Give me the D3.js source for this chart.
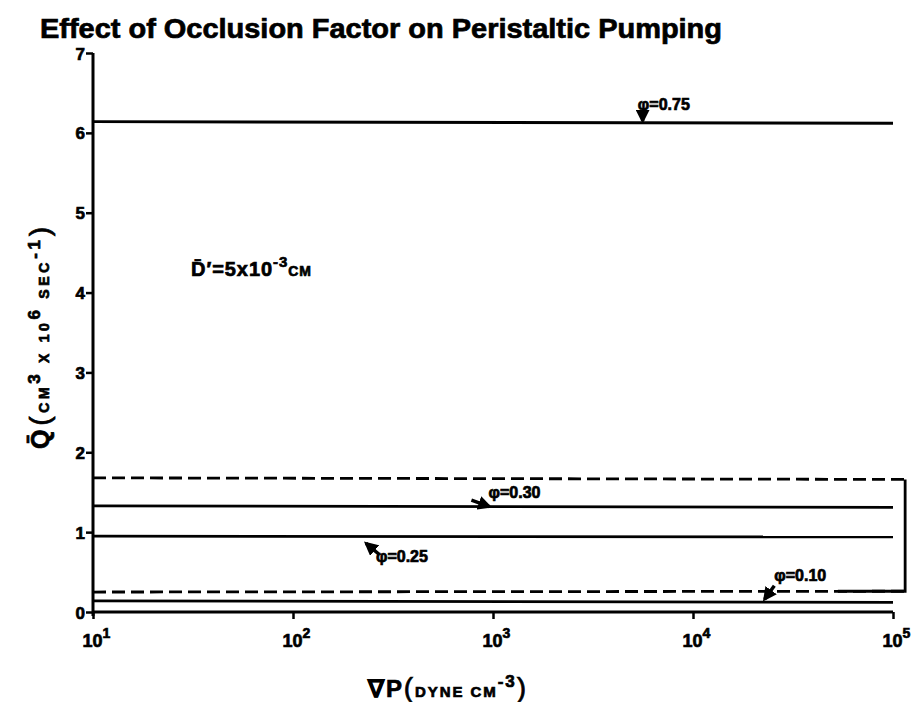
<!DOCTYPE html>
<html>
<head>
<meta charset="utf-8">
<script src="https://cdn.jsdelivr.net/npm/d3@7"></script>
<style>
  html, body { margin: 0; padding: 0; background: #fff; }
  svg { display: block; font-family: "Liberation Sans", Arial, sans-serif; font-weight: 700; }
  .heavy { stroke: #000; stroke-width: 0.7; paint-order: stroke; }
</style>
</head>
<body>
<div id="chart"></div>
<script>
// ---- data ----
const titleText = "Effect of Occlusion Factor on Peristaltic Pumping";
const xTickValues = [10, 100, 1000, 10000, 100000];
const xTickExponents = ["1", "2", "3", "4", "5"];
const yTickValues = [0, 1, 2, 3, 4, 5, 6, 7];
const xDomain = [10, 100000];
const yDomain = [0, 7];

// flow rate Q (cm^3 x 10^6 sec^-1) at left and right ends of each line
const solidX = [10, 100000];
const dashedX = [10, 115000];
const qPhi075 = [6.14, 6.12];
const qPhi030 = [1.33, 1.31];
const qPhi025 = [0.95, 0.94];
const qPhi010 = [0.14, 0.12];
const qUpperDashed = [1.68, 1.66];
const qLowerDashed = [0.25, 0.26];
const bracketX = [115000, 115000, 53000];
const bracketQ = [1.66, 0.26, 0.26];

const seriesLabels = ["φ=0.75", "φ=0.30", "φ=0.25", "φ=0.10"];
const labelX = [5300, 950, 260, 25500];
const labelQ = [6.29, 1.43, 0.63, 0.39];
const arrowFromX = [5600, 780, 270, 25500];
const arrowFromQ = [6.26, 1.40, 0.72, 0.33];
const arrowToX = [5600, 960, 232, 22800];
const arrowToQ = [6.15, 1.32, 0.86, 0.16];

// ---- layout ----
const W = 913, H = 702;
const svg = d3.select("#chart").append("svg").attr("width", W).attr("height", H);

const x = d3.scaleLog().domain(xDomain).range([93, 893]);
const y = d3.scaleLinear().domain(yDomain).range([612, 53]);

// title
svg.append("text")
  .attr("class", "heavy")
  .attr("x", 40).attr("y", 38)
  .attr("font-size", 27)
  .attr("textLength", 682).attr("lengthAdjust", "spacingAndGlyphs")
  .text(titleText);

// axes
const yAxis = d3.axisLeft(y).tickValues(yTickValues).tickSize(7).tickFormat(d3.format("d"));
const gy = svg.append("g").attr("transform", "translate(93,0)").call(yAxis);
gy.select(".domain").attr("stroke-width", 3).attr("d", `M0,${y(7)}V${y(0) + 4}`);
gy.selectAll(".tick line").attr("stroke-width", 2.5);
gy.selectAll(".tick text").attr("class", "heavy").attr("font-size", 17).attr("font-weight", 700)
  .attr("font-family", "Liberation Sans, Arial, sans-serif").attr("x", -8).attr("dy", "0.36em");

const xAxis = d3.axisBottom(x).tickValues(xTickValues).tickSize(7).tickFormat(() => "");
const gx = svg.append("g").attr("transform", `translate(0,${y(0)})`).call(xAxis);
gx.select(".domain").attr("stroke-width", 3).attr("d", `M${x(10)},0H${x(100000)}`);
gx.selectAll(".tick line").attr("stroke-width", 2.5);
gx.selectAll(".tick").each(function(d, i) {
  const t = d3.select(this).append("text")
    .attr("class", "heavy")
    .attr("x", 3)
    .attr("y", 35).attr("fill", "#000").attr("font-size", 18)
    .attr("font-weight", 700).attr("font-family", "Liberation Sans, Arial, sans-serif")
    .attr("text-anchor", "middle");
  t.append("tspan").text("10");
  t.append("tspan").attr("dy", -9).attr("font-size", 14).text(xTickExponents[i]);
});

// lines
const line = d3.line().x(d => x(d[0])).y(d => y(d[1]));
function drawLine(xs, qs, dashed) {
  svg.append("path")
    .datum(xs.map((v, i) => [v, qs[i]]))
    .attr("d", line)
    .attr("fill", "none").attr("stroke", "#000")
    .attr("stroke-width", 2.8)
    .attr("stroke-dasharray", dashed ? "13,6" : null);
}
drawLine(solidX, qPhi075, false);
drawLine(solidX, qPhi030, false);
drawLine(solidX, qPhi025, false);
drawLine(solidX, qPhi010, false);
drawLine(dashedX, qUpperDashed, true);
drawLine(dashedX, qLowerDashed, true);
drawLine(bracketX, bracketQ, false);

// annotations
svg.append("defs").append("marker")
  .attr("id", "ah").attr("viewBox", "0 0 10 10").attr("refX", 8).attr("refY", 5)
  .attr("markerWidth", 4).attr("markerHeight", 4).attr("orient", "auto")
  .append("path").attr("d", "M0,0L10,5L0,10Z").attr("fill", "#000");

seriesLabels.forEach((s, i) => {
  svg.append("line")
    .attr("x1", x(arrowFromX[i])).attr("y1", y(arrowFromQ[i]))
    .attr("x2", x(arrowToX[i])).attr("y2", y(arrowToQ[i]))
    .attr("stroke", "#000").attr("stroke-width", 3.5)
    .attr("marker-end", "url(#ah)");
  svg.append("text")
    .attr("class", "heavy")
    .attr("x", x(labelX[i])).attr("y", y(labelQ[i]))
    .attr("font-size", 16)
    .text(s);
});

// D' label
const dl = svg.append("text").attr("class", "heavy").attr("x", 191).attr("y", 276).attr("font-size", 20)
  .attr("textLength", 120).attr("lengthAdjust", "spacing");
dl.append("tspan").text("D̄′=5x10");
dl.append("tspan").attr("dy", -9).attr("font-size", 15).text("-3");
dl.append("tspan").attr("dy", 9).attr("font-size", 14).text("CM");

// y label
const yl = svg.append("text")
  .attr("class", "heavy")
  .attr("transform", "translate(49,338) rotate(-90)")
  .attr("text-anchor", "middle").attr("font-size", 25)
  .attr("textLength", 222).attr("lengthAdjust", "spacing");
yl.append("tspan").text("Q̄");
yl.append("tspan").attr("font-size", 28).attr("font-weight", 400).text("(");
yl.append("tspan").attr("font-size", 14).text("CM");
yl.append("tspan").attr("font-size", 17).attr("dy", -9).text("3");
yl.append("tspan").attr("font-size", 14).attr("dy", 9).text(" X 10");
yl.append("tspan").attr("font-size", 17).attr("dy", -9).text("6");
yl.append("tspan").attr("font-size", 14).attr("dy", 9).text(" SEC");
yl.append("tspan").attr("font-size", 17).attr("dy", -9).text("-1");
yl.append("tspan").attr("font-size", 28).attr("font-weight", 400).attr("dy", 9).text(")");

// x label
const xl = svg.append("text").attr("class", "heavy").attr("x", 368).attr("y", 697).attr("font-size", 24)
  .attr("textLength", 158).attr("lengthAdjust", "spacing");
xl.append("tspan").text("∇P");
xl.append("tspan").attr("font-size", 28).attr("font-weight", 400).text("(");
xl.append("tspan").attr("font-size", 15).text("DYNE CM");
xl.append("tspan").attr("font-size", 17).attr("dy", -10).text("-3");
xl.append("tspan").attr("font-size", 28).attr("font-weight", 400).attr("dy", 10).text(")");
</script>
</body>
</html>
